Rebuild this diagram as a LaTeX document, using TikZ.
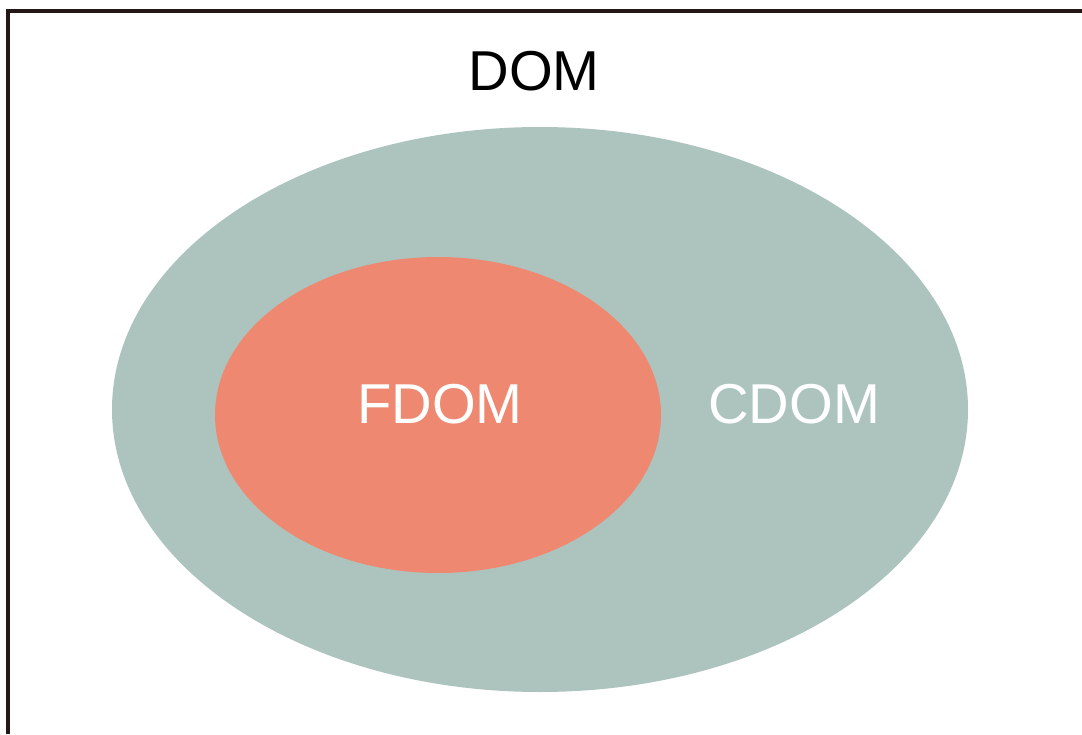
\documentclass[tikz,border=0pt]{standalone}
\usepackage{fontspec}
\setmainfont{Liberation Sans}
\usepackage{tikz}
\usetikzlibrary{positioning}

\definecolor{cdomgreen}{HTML}{ADC4BE}
\definecolor{fdomred}{HTML}{EE8870}
\definecolor{frameblack}{HTML}{231815}

\begin{document}
\begin{tikzpicture}[x=0.02cm, y=-0.02cm,
    label/.style = {font=\fontsize{32}{36}\selectfont, inner sep=0pt},
    frame/.style = {draw=frameblack, line width=2.6pt}]
\useasboundingbox (0,0) rectangle (1082,734);
\fill[white] (0,0) rectangle (1082,734);
\draw[frame] (8,734) -- (8,11) -- (1082,11);
%\draw[frame] (1082,11) -- (1082,734)
\fill[cdomgreen] (540,409.5) ellipse [x radius=428, y radius=282.5];
\fill[fdomred] (438,415) ellipse [x radius=223, y radius=158];
\node[label] (dom) at (534,71) {DOM};
\node[label, text=white] (fdom) at (440,404) {FDOM};
\node[label, text=white] (cdom) at (794,404) {CDOM};
\end{tikzpicture}
\end{document}
